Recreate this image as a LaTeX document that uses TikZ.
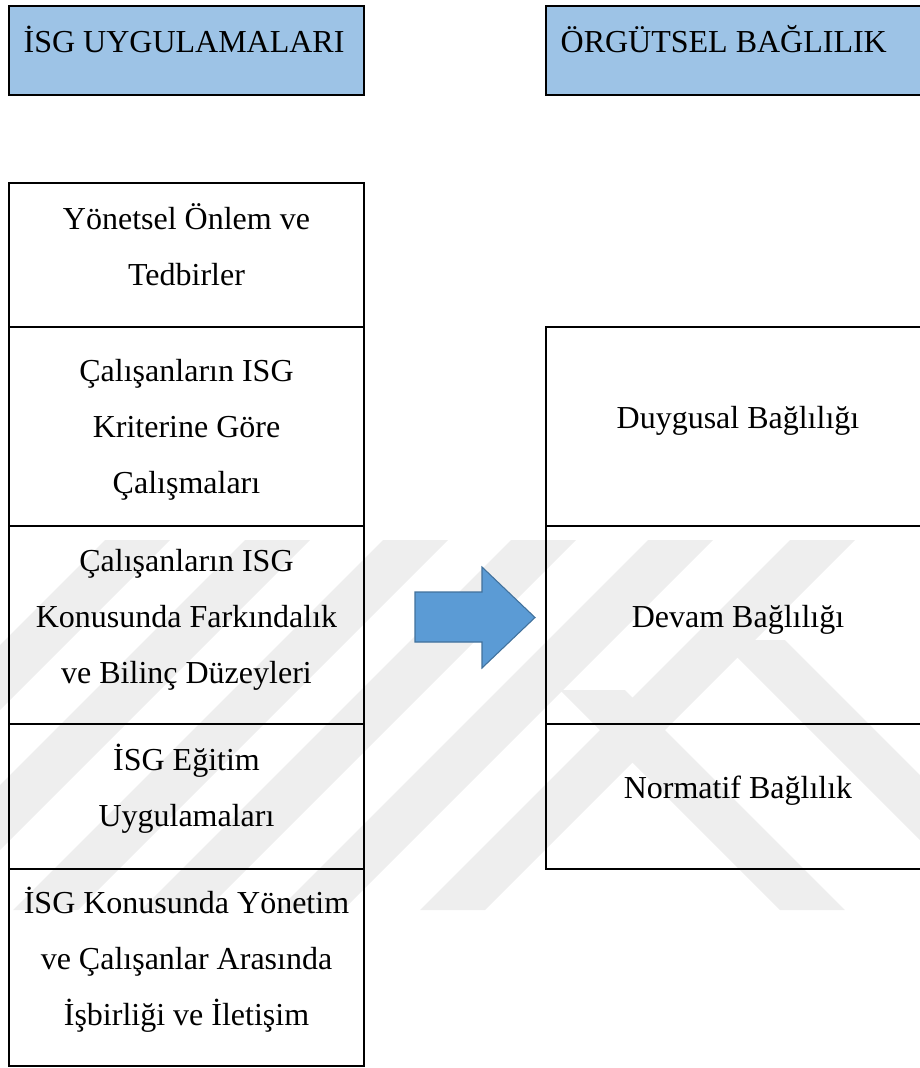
\documentclass[tikz,border=0pt]{standalone}
\usepackage{fontspec}
\setmainfont{Liberation Serif}
\usetikzlibrary{positioning}
\definecolor{cHead}{HTML}{9DC3E6}
\definecolor{cArrow}{HTML}{5B9BD5}
\definecolor{cArrowD}{HTML}{41719C}
\definecolor{cMark}{HTML}{EEEEEE}
\definecolor{cInk}{HTML}{000000}
\tikzset{
  txt/.style={font=\fontsize{24pt}{42pt}\selectfont,
    execute at begin node=\rule{0pt}{24pt},
    execute at end node=\rule[-21pt]{0pt}{21pt}},
  hdr/.style={txt, draw=cInk, line width=1.5pt, fill=cHead, align=flush left, text width=#1, inner xsep=11pt, inner ysep=0pt, minimum height=66.75pt, outer sep=0pt},
  cell/.style={txt, draw=cInk, line width=1.1pt, align=flush center, text width=266.25pt, minimum height=#1, inner sep=0pt, outer sep=0pt},
  cellR/.style={cell=#1, text width=288pt},
  bigarr/.style={fill=cArrow, draw=cArrowD, line width=0.8pt, line join=miter},
}
\begin{document}
\begin{tikzpicture}[x=0.75pt, y=-0.75pt]
\useasboundingbox (0,0) rectangle (920,1068);
% faint watermark behind the boxes
\foreach \t in {105,245,383,511,648,790}
  \fill[cMark] (\t,540) -- ++(65,0) -- ++(-370,370) -- ++(-65,0) -- cycle;
\foreach \t/\s in {560/690,720/640}
  \fill[cMark] (\t,\s) -- ++(65,0) -- ({\t+65+910-\s},910) -- ({\t+910-\s},910) -- cycle;
\node[hdr=244.25pt, anchor=north west] (hIsg) at (9,6) {İSG UYGULAMALARI};
\node[hdr=266pt, right=136.5pt of hIsg] (hOrg) {ÖRGÜTSEL BAĞLILIK};
\node[cell=108pt, anchor=north west] (isg1) at ([yshift=-66pt]hIsg.south west) {Yönetsel Önlem ve\\Tedbirler};
\node[cell=149.25pt, below=0pt of isg1, execute at begin node=\rule{0pt}{37pt}] (isg2) {Çalışanların ISG\\Kriterine Göre\\Çalışmaları};
\node[cell=148.5pt, below=0pt of isg2] (isg3) {Çalışanların ISG\\Konusunda Farkındalık\\ve Bilinç Düzeyleri};
\node[cell=108.75pt, below=0pt of isg3] (isg4) {İSG Eğitim\\Uygulamaları};
\node[cell=147.75pt, below=0pt of isg4] (isg5) {İSG Konusunda Yönetim\\ve Çalışanlar Arasında\\İşbirliği ve İletişim};
\node[cellR=149.25pt, anchor=north west] (org1) at (isg2.north -| hOrg.west) {Duygusal Bağlılığı};
\node[cellR=148.5pt, below=0pt of org1] (org2) {Devam Bağlılığı};
\node[cellR=108.75pt, below=0pt of org2] (org3) {Normatif Bağlılık};
\draw[bigarr] (415,592) -- (482,592) -- (482,567) -- (535,617.5) -- (482,668) -- (482,642) -- (415,642) -- cycle;
\end{tikzpicture}
\end{document}
